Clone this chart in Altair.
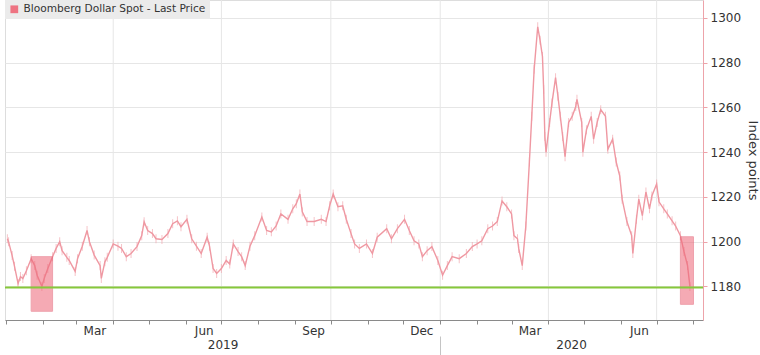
import altair as alt
import pandas as pd

# ---- data ----
dates = [
    "2019-01-02", "2019-01-03", "2019-01-06", "2019-01-08", "2019-01-11", "2019-01-13", "2019-01-15",
    "2019-01-18", "2019-01-22", "2019-01-25", "2019-01-27", "2019-01-31", "2019-02-02", "2019-02-05",
    "2019-02-09", "2019-02-12", "2019-02-15", "2019-02-17", "2019-02-21", "2019-02-23", "2019-02-28",
    "2019-03-02", "2019-03-06", "2019-03-10", "2019-03-12", "2019-03-16", "2019-03-21", "2019-03-22",
    "2019-03-25", "2019-03-27", "2019-04-01", "2019-04-05", "2019-04-08", "2019-04-12", "2019-04-16",
    "2019-04-21", "2019-04-25", "2019-04-27", "2019-04-30", "2019-05-04", "2019-05-07", "2019-05-12",
    "2019-05-17", "2019-05-21", "2019-05-25", "2019-05-28", "2019-06-02", "2019-06-06", "2019-06-10",
    "2019-06-14", "2019-06-19", "2019-06-21", "2019-06-24", "2019-06-27", "2019-07-01", "2019-07-05",
    "2019-07-08", "2019-07-11", "2019-07-15", "2019-07-18", "2019-07-21", "2019-07-25", "2019-07-29",
    "2019-08-04", "2019-08-08", "2019-08-12", "2019-08-16", "2019-08-20", "2019-08-26", "2019-08-30",
    "2019-09-02", "2019-09-05", "2019-09-07", "2019-09-11", "2019-09-17", "2019-09-23", "2019-09-27",
    "2019-09-30", "2019-10-03", "2019-10-07", "2019-10-11", "2019-10-14", "2019-10-18", "2019-10-21",
    "2019-10-25", "2019-10-31", "2019-11-05", "2019-11-09", "2019-11-17", "2019-11-21", "2019-11-26",
    "2019-12-02", "2019-12-06", "2019-12-10", "2019-12-14", "2019-12-17", "2019-12-21", "2019-12-25",
    "2019-12-30", "2020-01-03", "2020-01-07", "2020-01-11", "2020-01-17", "2020-01-23", "2020-01-28",
    "2020-02-01", "2020-02-05", "2020-02-10", "2020-02-14", "2020-02-18", "2020-02-22", "2020-02-26",
    "2020-03-01", "2020-03-03", "2020-03-06", "2020-03-07", "2020-03-10", "2020-03-13", "2020-03-16",
    "2020-03-18", "2020-03-20", "2020-03-23", "2020-03-25", "2020-03-27", "2020-03-28", "2020-03-29",
    "2020-03-30", "2020-04-02", "2020-04-04", "2020-04-07", "2020-04-09", "2020-04-11", "2020-04-13",
    "2020-04-15", "2020-04-18", "2020-04-21", "2020-04-24", "2020-04-25", "2020-04-29", "2020-04-30",
    "2020-05-03", "2020-05-07", "2020-05-09", "2020-05-12", "2020-05-15", "2020-05-19", "2020-05-21",
    "2020-05-25", "2020-05-28", "2020-05-31", "2020-06-02", "2020-06-06", "2020-06-10", "2020-06-11",
    "2020-06-14", "2020-06-16", "2020-06-19", "2020-06-22", "2020-06-25", "2020-06-27", "2020-07-01",
    "2020-07-03", "2020-07-07", "2020-07-10", "2020-07-14", "2020-07-17", "2020-07-21", "2020-07-24",
    "2020-07-27", "2020-07-29",
]
values = [
    1201.3, 1200.0, 1193.8, 1189.0, 1181.3, 1184.4, 1183.5,
    1187.0, 1192.4, 1189.3, 1185.0, 1180.0, 1183.6, 1188.0,
    1193.3, 1197.0, 1200.0, 1196.0, 1193.0, 1191.6, 1186.7,
    1192.4, 1198.0, 1205.0, 1200.0, 1194.0, 1189.3, 1183.6,
    1191.0, 1193.0, 1199.0, 1198.0, 1197.0, 1193.3, 1194.7,
    1197.8, 1202.7, 1208.9, 1205.0, 1203.6, 1201.3, 1201.0,
    1203.6, 1208.0, 1209.3, 1206.7, 1210.0, 1201.3, 1198.0,
    1194.7, 1202.0, 1198.0, 1188.0, 1185.8, 1188.0, 1191.6,
    1190.0, 1199.0, 1195.6, 1193.3, 1189.3, 1198.0, 1202.7,
    1211.0, 1205.0, 1204.4, 1207.0, 1212.4, 1210.0, 1214.7,
    1217.0, 1221.3, 1213.3, 1209.0, 1209.0, 1210.0, 1209.0,
    1216.0, 1221.3, 1215.6, 1216.0, 1210.0, 1203.6, 1199.0,
    1197.0, 1199.0, 1194.7, 1202.0, 1205.8, 1201.3, 1205.8,
    1210.0, 1205.0, 1200.4, 1199.0, 1193.3, 1196.0, 1197.8,
    1191.6, 1185.0, 1189.3, 1193.3, 1192.4, 1194.7, 1197.8,
    1199.0, 1200.4, 1205.8, 1207.0, 1209.0, 1218.2, 1215.6,
    1212.4, 1202.7, 1201.3, 1197.0, 1189.3, 1207.0, 1235.6,
    1256.0, 1277.0, 1296.0, 1290.0, 1282.7, 1268.0, 1247.0,
    1240.0, 1253.3, 1262.0, 1273.3, 1265.0, 1256.0, 1247.0,
    1238.0, 1253.3, 1256.0, 1260.4, 1263.6, 1253.3, 1240.0,
    1250.0, 1256.0, 1245.8, 1253.3, 1259.0, 1256.0, 1241.3,
    1245.8, 1235.6, 1229.3, 1219.0, 1209.0, 1202.7, 1194.7,
    1210.0, 1219.0, 1211.6, 1222.2, 1214.7, 1220.4, 1225.8,
    1217.8, 1214.7, 1212.4, 1209.3, 1207.0, 1202.7, 1195.6,
    1189.3, 1180.0,
]
series_name = "Bloomberg Dollar Spot - Last Price"

box_start = ["2019-01-22", "2020-07-21"]
box_end = ["2019-02-09", "2020-08-01"]
box_low = [1168.9, 1172.0]
box_high = [1193.3, 1202.2]

support_level = [1179.5]

quarter_starts = ["2019-04-01", "2019-07-01", "2019-10-01", "2020-01-01", "2020-04-01", "2020-07-01"]
month_ticks = [(2019, m) for m in range(1, 13)] + [(2020, m) for m in range(1, 9)]
year_label_dates = [(2019, 7, 2), (2020, 4, 20)]
year_divider = [(2020, 1, 1)]
y_ticks = [1180, 1200, 1220, 1240, 1260, 1280, 1300]

# ---- tables ----
df = pd.DataFrame({"date": dates, "value": values})
boxes = pd.DataFrame({"start": box_start, "end": box_end, "low": box_low,
                      "high": box_high, "series": [series_name] * len(box_start)})
level_df = pd.DataFrame({"level": support_level})
grid_df = pd.DataFrame({"q": quarter_starts})

FONT = "DejaVu Sans"
TXT = "#333333"
LINE = "#ef98a2"

x_scale = alt.Scale(domain=[alt.DateTime(year=2018, month=12, date=31),
                            alt.DateTime(year=2020, month=8, date=9)])
y_scale = alt.Scale(domain=[1165, 1308], nice=False, zero=False)

y_axis = alt.Axis(orient="right", values=y_ticks, format="d", grid=True, gridColor="#e6e6e6",
                  domainColor="#eda3aa", tickColor="#eda3aa", tickSize=4,
                  labelPadding=3, labelFontSize=12, labelColor=TXT, labelFont=FONT,
                  title="Index points", titleFontSize=13, titleFontWeight="normal",
                  titleColor=TXT, titleFont=FONT, titlePadding=5)

month_axis = alt.Axis(orient="bottom",
                      values=[alt.DateTime(year=y, month=m, date=1) for y, m in month_ticks],
                      labelExpr="(month(datum.value) % 3 == 2) ? timeFormat(datum.value, '%b') : ''",
                      labelOffset=18, tickSize=4, labelPadding=1, grid=False,
                      domainColor="#8a8a8a", tickColor="#8a8a8a", labelColor=TXT,
                      labelFont=FONT, labelFontSize=12, labelOverlap=False, labelFlush=False,
                      title=None)

year_axis = alt.Axis(orient="bottom",
                     values=[alt.DateTime(year=y, month=m, date=d) for y, m, d in year_label_dates],
                     format="%Y", ticks=False, domain=False, grid=False, labelPadding=19,
                     labelColor=TXT, labelFont=FONT, labelFontSize=12, labelOverlap=False,
                     labelFlush=False, title=None)

divider_axis = alt.Axis(orient="bottom",
                        values=[alt.DateTime(year=y, month=m, date=d) for y, m, d in year_divider],
                        labels=False, domain=False, grid=False, tickSize=19, offset=16,
                        tickColor="#c4c4c4", title=None)

grid = alt.Chart(grid_df).mark_rule(color="#e6e6e6", strokeWidth=1).encode(
    x=alt.X("q:T", scale=x_scale, axis=divider_axis)
)

ticks = alt.Chart(df).mark_tick(orient="vertical", color="#f2a9b0", size=9, thickness=1).encode(
    x=alt.X("date:T", scale=x_scale, axis=None),
    y=alt.Y("value:Q", scale=y_scale, axis=y_axis),
)

line = alt.Chart(df).mark_line(color=LINE, strokeWidth=1.4).encode(
    x=alt.X("date:T", scale=x_scale, axis=month_axis),
    y=alt.Y("value:Q", scale=y_scale, axis=y_axis),
)

rects = alt.Chart(boxes).mark_rect(opacity=0.55, stroke="#e2566b", strokeWidth=1).encode(
    x=alt.X("start:T", scale=x_scale, axis=year_axis),
    x2="end:T",
    y=alt.Y("low:Q", scale=y_scale, axis=y_axis),
    y2="high:Q",
    color=alt.Color("series:N", scale=alt.Scale(range=["#ee6677"]),
                    legend=alt.Legend(title=None, orient="top-left", offset=0, padding=4,
                                      fillColor="#ebebeb", symbolType="square", symbolSize=60,
                                      labelFont=FONT, labelFontSize=10.6, labelColor=TXT,
                                      labelLimit=0, symbolStrokeWidth=0, symbolOpacity=0.9)),
)

green = alt.Chart(level_df).mark_rule(color="#86c83a", strokeWidth=2).encode(
    y=alt.Y("level:Q", scale=y_scale, axis=y_axis)
)

chart = (
    alt.layer(grid, ticks, line, rects, green)
    .resolve_scale(x="shared", y="shared")
    .resolve_axis(x="independent", y="shared")
    .properties(width=698, height=320,
                autosize=alt.AutoSizeParams(type="none"),
                padding={"left": 5, "right": 57, "top": 0, "bottom": 35},
                background="white")
    .configure_view(stroke=None)
    .configure(font=FONT)
)

chart.save("out.html", embed_options={"renderer": "svg", "actions": False})
